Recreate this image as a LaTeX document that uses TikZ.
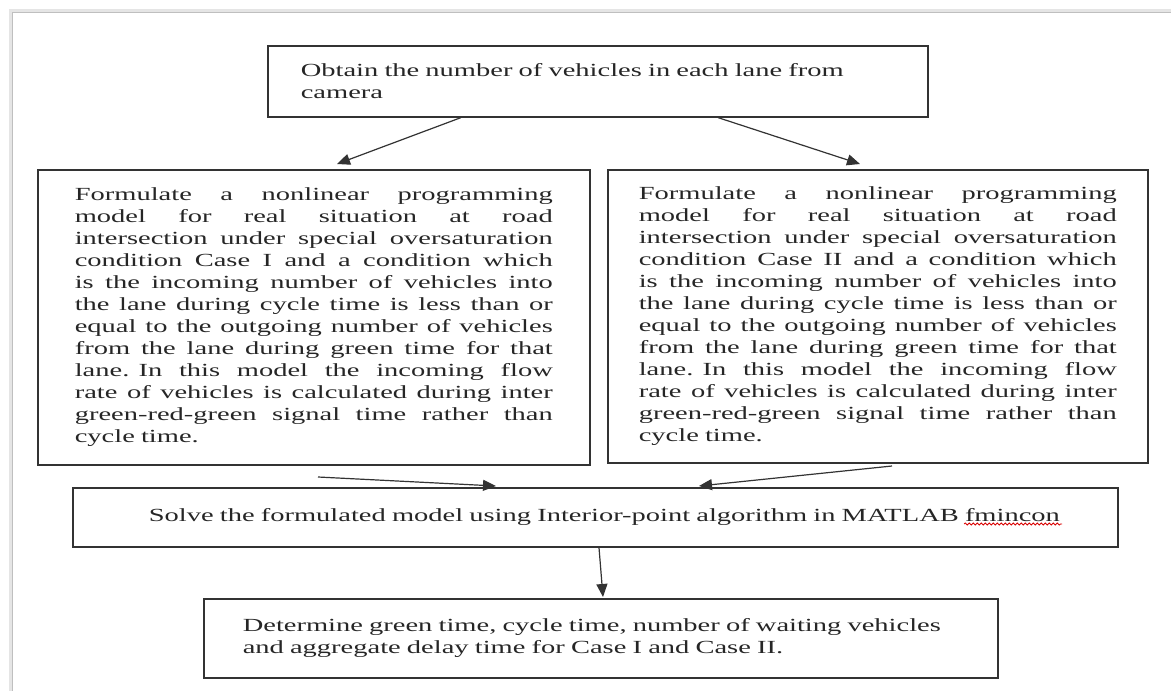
\documentclass[tikz,border=0pt]{standalone}
\usepackage{fontspec}
\setmainfont{Liberation Serif}[FakeStretch=1.54]
\usetikzlibrary{arrows.meta,decorations.pathmorphing}
\newcommand{\jl}[1]{\leavevmode\hbox to 478pt{\spaceskip=\fontdimen2\font plus 1fil\relax #1}\\}
\begin{document}
\begin{tikzpicture}[x=1pt,y=-1pt,
  box/.style={draw=black!80, line width=1.6pt, anchor=north west, inner ysep=0pt,
    text=black!85, font=\fontsize{18.5}{22}\selectfont},
  arr/.style={line width=1.2pt, draw=black!80, -{Triangle[length=13pt,width=11pt]}},
  wavy/.style={draw=red!85!black, line width=0.8pt, decorate,
    decoration={snake, amplitude=1pt, segment length=4pt}}]
\useasboundingbox (0,0) rectangle (1171,691);
\fill[white] (0,0) rectangle (1171,691);
% page frame with soft shadow
\draw[black!10, line width=4pt] (11,691) -- (11,11) -- (1171,11);
\draw[black!25, line width=1.2pt] (12.5,691) -- (12.5,12.5) -- (1171,12.5);

\node[box, minimum width=660, minimum height=71, inner xsep=33, text width=594, align=left]
  (obtain) at (267,45) {Obtain the number of vehicles in each lane from\\camera};

\node[box, minimum width=552, minimum height=295, inner xsep=37, text width=478, align=left]
  (caseI) at (37,169) {%
\jl{Formulate a nonlinear programming}%
\jl{model for real situation at road}%
\jl{intersection under special oversaturation}%
\jl{condition Case I and a condition which}%
\jl{is the incoming number of vehicles into}%
\jl{the lane during cycle time is less than or}%
\jl{equal to the outgoing number of vehicles}%
\jl{from the lane during green time for that}%
\jl{lane. In this model the incoming flow}%
\jl{rate of vehicles is calculated during inter}%
\jl{green-red-green signal time rather than}%
cycle time.};

\node[box, minimum width=540, minimum height=293, inner xsep=31, text width=478, align=left]
  (caseII) at (607,169) {%
\jl{Formulate a nonlinear programming}%
\jl{model for real situation at road}%
\jl{intersection under special oversaturation}%
\jl{condition Case II and a condition which}%
\jl{is the incoming number of vehicles into}%
\jl{the lane during cycle time is less than or}%
\jl{equal to the outgoing number of vehicles}%
\jl{from the lane during green time for that}%
\jl{lane. In this model the incoming flow}%
\jl{rate of vehicles is calculated during inter}%
\jl{green-red-green signal time rather than}%
cycle time.};

\node[box, minimum width=1045, minimum height=59, inner xsep=76, text width=893, align=left]
  (solve) at (72,487) {\mbox{Solve the formulated model using Interior-point algorithm in MATLAB fmincon}};

\node[box, minimum width=794, minimum height=79, inner xsep=39, text width=716, align=left]
  (result) at (203,598) {\mbox{Determine green time, cycle time, number of waiting vehicles}\\\mbox{and aggregate delay time for Case I and Case II.}};

% arrow ends
\coordinate (tipI) at (337,164);
\coordinate (tipII) at (860,164);
\coordinate (tipS1) at (496,486);
\coordinate (tipS2) at (699,486);
\coordinate (tipR) at (603,597);
\coordinate (srcI) at (318,477);
\coordinate (srcII) at (892,466);

\draw[arr] ([xshift=194pt]obtain.south west) -- (tipI);
\draw[arr] ([xshift=451pt]obtain.south west) -- (tipII);
\draw[arr] (srcI) -- (tipS1);
\draw[arr] (srcII) -- (tipS2);
\draw[arr] ([xshift=527pt]solve.south west) -- (tipR);

\draw[wavy] (964,524) -- (1062,524);
\end{tikzpicture}
\end{document}
